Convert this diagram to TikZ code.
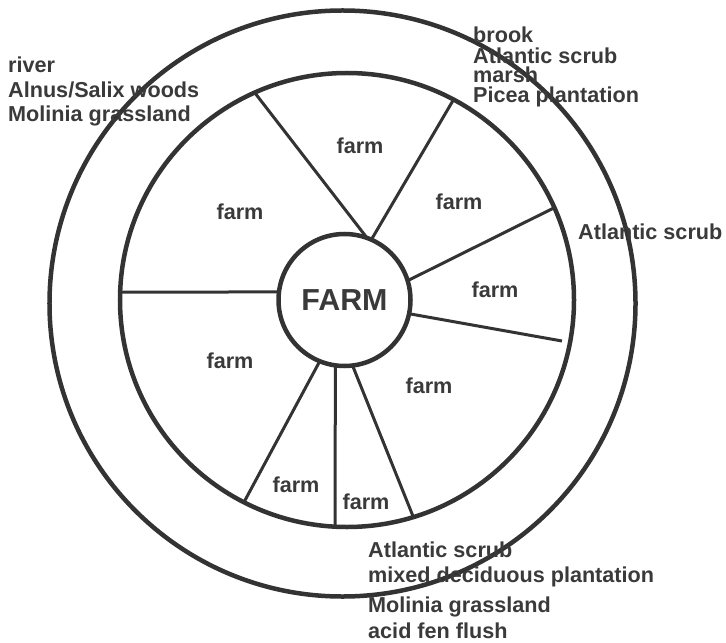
\documentclass[tikz,border=0pt]{standalone}
\usepackage{fontspec}
\setmainfont{Liberation Sans}
\definecolor{ink}{HTML}{333333}
\definecolor{txt}{HTML}{3A3A3A}
\begin{document}
\begin{tikzpicture}[x=1bp,y=-1bp,
  ring/.style={circle,draw=ink,line width=4.5bp,inner sep=0pt,outer sep=0pt},
  spoke/.style={draw=ink,line width=3bp},
  lbl/.style={text=txt,font=\bfseries\fontsize{21.7}{24}\selectfont,inner sep=0pt},
  site/.style={lbl,anchor=base west}]
\useasboundingbox (0,0) rectangle (726,643);
% rings
\node[ring,minimum size=586bp] (outer) at (342.5,303.5) {};
\node[ring,minimum size=454bp] (mid) at (347,300) {};
\node[ring,minimum size=132bp,text=txt,font=\bfseries\fontsize{30.5}{32}\selectfont] (farm) at (344.5,300) {FARM};
% spokes
\coordinate (e5) at (562,341);
\draw[spoke] (farm.173) -- (mid.178);
\draw[spoke] (farm.70) -- (mid.114.4);
\draw[spoke] (farm.66) -- (mid.62.2);
\draw[spoke] (farm.17.5) -- (mid.24.4);
\draw[spoke] (farm.-12.4) -- (e5);
\draw[spoke] (farm.-112.3) -- (mid.-117.5);
\draw[spoke] (farm.-98) -- (mid.-93.6);
\draw[spoke] (farm.-83) -- (mid.-73);
% farm labels
\node[lbl] (f1) at (240,212) {farm};
\node[lbl] (f2) at (360,146) {farm};
\node[lbl] (f3) at (459,202) {farm};
\node[lbl] (f4) at (495,290) {farm};
\node[lbl] (f5) at (429,386) {farm};
\node[lbl] (f6) at (230,361) {farm};
\node[lbl] (f7) at (296,485) {farm};
\node[lbl] (f8) at (366,502) {farm};
% surroundings
\node[site] (r1) at (8,73) {river};
\node[site] (r2) at (8,98) {Alnus/Salix woods};
\node[site] (r3) at (8,122) {Molinia grassland};
\node[site] (b1) at (473,43) {brook};
\node[site] (b2) at (473,63.5) {Atlantic scrub};
\node[site] (b3) at (473,83) {marsh};
\node[site] (b4) at (473,103) {Picea plantation};
\node[site] (e1) at (578,239) {Atlantic scrub};
\node[site] (s1) at (368,557) {Atlantic scrub};
\node[site] (s2) at (368,582) {mixed deciduous plantation};
\node[site] (s3) at (368,612) {Molinia grassland};
\node[site] (s4) at (368,638) {acid fen flush};
\end{tikzpicture}
\end{document}
